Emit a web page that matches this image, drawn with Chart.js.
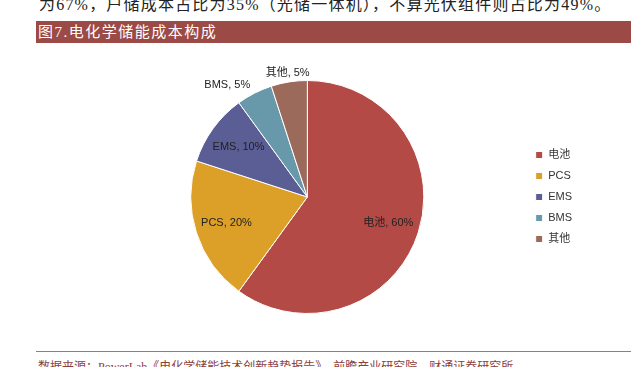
<!DOCTYPE html>
<html>
<head>
<meta charset="utf-8">
<script src="https://cdn.jsdelivr.net/npm/chart.js@4/dist/chart.umd.min.js"></script>
<style>
  body { margin:0; width:644px; height:367px; background:#fff; position:relative; overflow:hidden;
         font-family:"Liberation Serif","Noto Sans CJK SC",serif; }
  #topline { position:absolute; left:39px; top:-9px; font-size:16px; color:#222; white-space:nowrap; letter-spacing:1.2px; }
  #title { position:absolute; left:36px; top:21px; width:595px; height:22px; background:#9C4A45;
           color:#fff; font-size:15px; line-height:22px; padding-left:2px; box-sizing:border-box; letter-spacing:1.5px; }
  #bar { position:absolute; left:36px; top:351px; width:595px; height:1px; background:#B07070; }
  #src { position:absolute; left:38px; top:357px; font-size:12px; color:#8B4040; white-space:nowrap; }
  #wrap { position:absolute; left:0; top:45px; width:644px; height:305px; }
</style>
</head>
<body>
<div id="topline">为67%，户储成本占比为35%（光储一体机），不算光伏组件则占比为49%。</div>
<div id="title">图7.电化学储能成本构成</div>
<div id="wrap"><canvas id="pie"></canvas></div>
<div id="bar"></div>
<div id="src">数据来源：PowerLab《电化学储能技术创新趋势报告》，前瞻产业研究院，财通证券研究所</div>
<script>
// 成本构成数据
var parts = ['电池', 'PCS', 'EMS', 'BMS', '其他'];
var shares = [60, 20, 10, 5, 5];
var colors = ['#B44A45', '#DC9F27', '#5B5D95', '#6899AA', '#9B6A5B'];

// 数据标签：大块放里面，小块放外面
var pieLabels = {
    id: 'pieLabels',
    afterDatasetsDraw: function(chart) {
        var ctx = chart.ctx;
        var arcs = chart.getDatasetMeta(0).data;
        ctx.save();
        ctx.font = '11px "Liberation Sans", "Noto Sans CJK SC", sans-serif';
        ctx.fillStyle = '#222';
        ctx.textBaseline = 'middle';
        arcs.forEach(function(arc, i) {
            var mid = (arc.startAngle + arc.endAngle) / 2;
            var r = arc.outerRadius;
            var txt = parts[i] + ', ' + shares[i] + '%';
            var cx = Math.cos(mid), cy = Math.sin(mid);
            if (shares[i] >= 10) {
                ctx.textAlign = 'center';
                ctx.fillText(txt, arc.x + cx * r * 0.73, arc.y + cy * r * 0.73);
            } else {
                var d = r * 1.08;
                ctx.textAlign = Math.abs(cx) < 0.3 ? 'center' : (cx < 0 ? 'right' : 'left');
                ctx.fillText(txt, arc.x + cx * d, arc.y + cy * d);
            }
        });
        ctx.restore();
    }
};

var chart = new Chart(document.getElementById('pie'), {
    type: 'pie',
    data: {
        labels: parts,
        datasets: [{
            data: shares,
            backgroundColor: colors,
            borderColor: '#fff',
            borderWidth: 1
        }]
    },
    options: {
        responsive: true,
        maintainAspectRatio: false,
        animation: false,
        layout: { padding: { left: 89, right: 62, top: 35, bottom: 36 } },
        plugins: {
            legend: {
                position: 'right',
                labels: {
                    boxWidth: 7,
                    boxHeight: 7,
                    padding: 10,
                    color: '#333',
                    font: { size: 11, family: '"Liberation Sans", "Noto Sans CJK SC", sans-serif' }
                }
            },
            tooltip: { enabled: false }
        }
    },
    plugins: [pieLabels]
});
</script>
</body>
</html>
